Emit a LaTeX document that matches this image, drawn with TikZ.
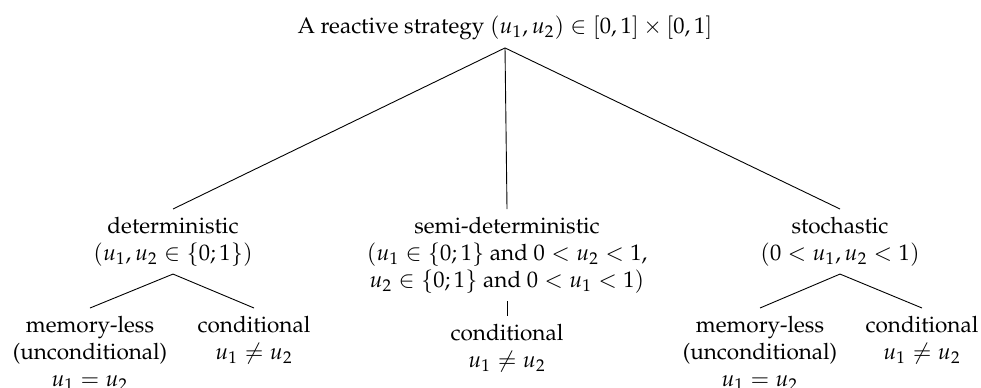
\documentclass[tikz,border=0pt]{standalone}
\usepackage[T1]{fontenc}
\usepackage{mathpazo}
\begin{document}
\begin{tikzpicture}[x=0.4444pt,y=-0.4444pt,
  lab/.style={align=center,anchor=north},
  edge/.style={draw=black,line width=0.4pt}]
\useasboundingbox (0,0) rectangle (981,387);
\node (root) at (505,28) {A reactive strategy $(u_1,u_2)\in[0,1]\times[0,1]$};
\node[lab] (det) at (173,209) {deterministic\\$(u_1,u_2\in\{0;1\})$};
\node[lab] (semi) at (507,209) {semi-deterministic\\$(u_1\in\{0;1\}$ and $0<u_2<1$,\\$u_2\in\{0;1\}$ and $0<u_1<1)$};
\node[lab] (sto) at (840,209) {stochastic\\$(0<u_1,u_2<1)$};
\node[lab] (detm) at (90,308) {memory-less\\(unconditional)\\$u_1=u_2$};
\node[lab] (detc) at (254,308) {conditional\\$u_1\neq u_2$};
\node[lab] (semic) at (507,316) {conditional\\$u_1\neq u_2$};
\node[lab] (stom) at (760,308) {memory-less\\(unconditional)\\$u_1=u_2$};
\node[lab] (stoc) at (922,308) {conditional\\$u_1\neq u_2$};
\draw[edge] (root.south) -- (det.north);
\draw[edge] (root.south) -- (semi.north);
\draw[edge] (root.south) -- (sto.north);
\draw[edge] (det.south) -- (detm.north);
\draw[edge] (det.south) -- (detc.north);
\draw[edge] (semi.south) -- (semic.north);
\draw[edge] (sto.south) -- (stom.north);
\draw[edge] (sto.south) -- (stoc.north);
\end{tikzpicture}
\end{document}
